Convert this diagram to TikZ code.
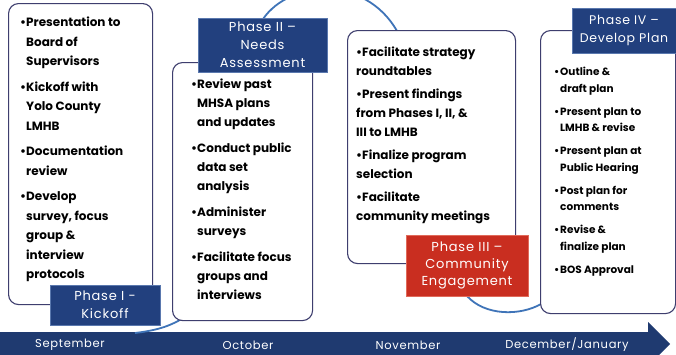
\documentclass[tikz,border=0pt]{standalone}
\usepackage{fontspec}
\setmainfont{Poppins}
\newfontfamily\labfont{Poppins}[LetterSpace=6]
\definecolor{boxline}{HTML}{3E3E6E}
\definecolor{labblue}{HTML}{22407E}
\definecolor{labedge}{HTML}{5A78AE}
\definecolor{labred}{HTML}{C92E20}
\definecolor{labrededge}{HTML}{E06A5A}
\definecolor{wave}{HTML}{3F74B8}
\definecolor{banddark}{HTML}{1F3A70}
\newcommand\bul{\makebox[6pt][l]{•}}
\newcommand\ind{\hspace*{6pt}}
\tikzset{
  box/.style={draw=boxline, line width=1.1pt, rounded corners=10pt, fill=white, inner sep=0pt, anchor=north west},
  txt/.style={anchor=north west, inner sep=0pt, align=left, font=\fontsize{12}{19.5}\selectfont\bfseries},
  phase/.style={draw=labedge, line width=0.8pt, fill=labblue, text=white, align=center, inner sep=0pt, font=\labfont\fontsize{13}{18}\selectfont},
  phasered/.style={phase, draw=labrededge, fill=labred},
  wavy/.style={draw=wave, line width=1.8pt},
  month/.style={text=white, inner sep=0pt, font=\labfont\fontsize{11.5}{12}\selectfont}
}
\begin{document}
\begin{tikzpicture}[x=1pt,y=-1pt]
\useasboundingbox (0,0) rectangle (676,354);
\fill[white] (0,0) rectangle (676,354);
% timeline
\fill[banddark] (0,332) -- (648,332) -- (648,322) -- (670,344) -- (648,366) -- (648,356) -- (0,356) -- cycle;
\node[month] (m1) at (70,345) {September};
\node[month] (m2) at (248,345) {October};
\node[month] (m3) at (408,345) {November};
\node[month] (m4) at (567,345) {December/January};
% coordinates for wave ends
\coordinate (a0) at (135,333);
\coordinate (a1) at (185,317);
\coordinate (w0) at (263,19);
\coordinate (w1) at (397,31);
\coordinate (c0) at (467,296);
\coordinate (c1) at (541,304);
% waves
\draw[wavy] (a0) .. controls (160,330) and (172,325) .. (a1);
\draw[wavy] (w0) .. controls (290,-20) and (365,-25) .. (w1);
\draw[wavy] (c0) .. controls (485,316) and (520,316) .. (c1);
% boxes
\node[box, minimum width=144, minimum height=301] (b1) at (8,3) {};
\node[box, minimum width=140, minimum height=258] (b2) at (172,62) {};
\node[box, minimum width=168, minimum height=233] (b3) at (347,30) {};
\node[box, minimum width=135, minimum height=283] (b4) at (540,30) {};
% texts
\node[txt] (t1) at (20,17) {\bul Presentation to\\ \ind Board of\\ \ind Supervisors\\[6pt]
\bul Kickoff with\\ \ind Yolo County\\ \ind LMHB\\[6pt]
\bul Documentation\\ \ind review\\[6pt]
\bul Develop\\ \ind survey, focus\\ \ind group \&\\ \ind interview\\ \ind protocols};
\node[txt, font=\fontsize{12}{19}\selectfont\bfseries] (t2) at (191,79) {\bul Review past\\ \ind MHSA plans\\ \ind and updates\\[7pt]
\bul Conduct public\\ \ind data set\\ \ind analysis\\[7pt]
\bul Administer\\ \ind surveys\\[7pt]
\bul Facilitate focus\\ \ind groups and\\ \ind interviews};
\node[txt, font=\fontsize{12}{19}\selectfont\bfseries] (t3) at (356,47) {\bul Facilitate strategy\\ roundtables\\[4pt]
\bul Present findings\\ from Phases I, II, \&\\ III to LMHB\\[4pt]
\bul Finalize program\\ selection\\[4pt]
\bul Facilitate\\ community meetings};
\node[txt, font=\fontsize{10.5}{16.5}\selectfont\bfseries] (t4) at (554,67) {\bul Outline \&\\ \ind draft plan\\[6.5pt]
\bul Present plan to\\ \ind LMHB \& revise\\[6.5pt]
\bul Present plan at\\ \ind Public Hearing\\[6.5pt]
\bul Post plan for\\ \ind comments\\[6.5pt]
\bul Revise \&\\ \ind finalize plan\\[6.5pt]
\bul BOS Approval};
% phase labels
\node[phase, minimum width=110, minimum height=40] (p1) at (105,305) {Phase I -\\Kickoff};
\node[phase, minimum width=129, minimum height=54] (p2) at (262.5,45) {Phase II –\\Needs\\Assessment};
\node[phasered, minimum width=122, minimum height=61, font=\labfont\fontsize{13}{17}\selectfont] (p3) at (467,265.5) {Phase III –\\Community\\Engagement};
\node[phase, minimum width=104, minimum height=45, font=\labfont\fontsize{12.5}{18}\selectfont] (p4) at (624,30.5) {Phase IV –\\Develop Plan};
\end{tikzpicture}
\end{document}
